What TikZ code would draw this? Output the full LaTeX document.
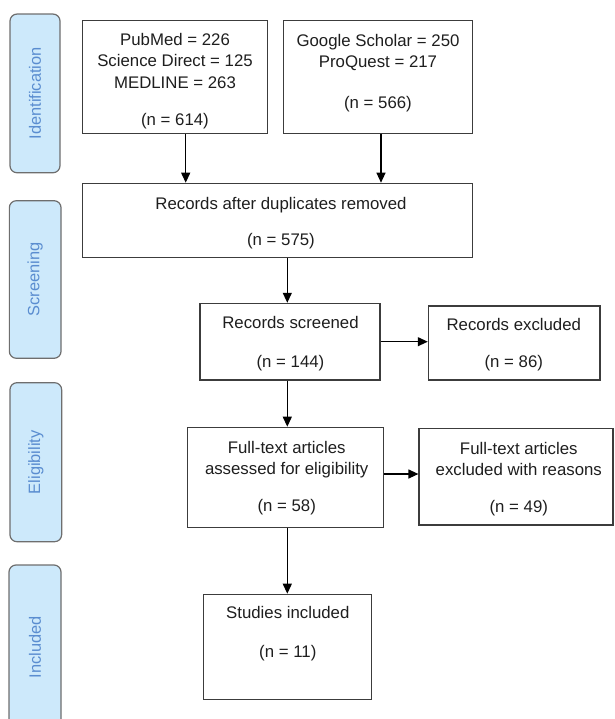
\documentclass[tikz,border=0pt]{standalone}
\usepackage{fontspec}
\setmainfont{Liberation Sans}
\usetikzlibrary{arrows.meta}
\definecolor{phasefill}{HTML}{CDE9FB}
\definecolor{phasedraw}{HTML}{6E6E6E}
\definecolor{phasetext}{HTML}{5A8DD0}
\definecolor{boxdraw}{HTML}{3C3C3C}
\definecolor{txtcol}{HTML}{1E1E1E}
\begin{document}
\begin{tikzpicture}[x=1pt,y=-1pt,
 box/.style={draw=boxdraw, line width=1.2pt, rectangle, inner sep=0pt},
 txt/.style={align=center, inner sep=0pt, text=txtcol, font=\fontsize{16.8}{21.3}\selectfont},
 phase/.style={draw=phasedraw, fill=phasefill, line width=1.2pt, rounded corners=7pt, inner sep=0pt, text=phasetext, font=\fontsize{16.4}{20}\selectfont},
 arr/.style={-{Triangle[width=9pt,length=10pt]}, line width=1.2pt, black}]
\useasboundingbox (0,0) rectangle (614,719);
\clip (0,0) rectangle (614,719);
% phase labels
\node[phase, minimum width=50, minimum height=158.7] (p1) at (35,93.4) {\rotatebox{90}{Identification}};
\node[phase, minimum width=51.7, minimum height=157.6] (p2) at (35.2,279.5) {\rotatebox{90}{Screening}};
\node[phase, minimum width=51.7, minimum height=159] (p3) at (35.8,462.2) {\rotatebox{90}{Eligibility}};
\node[phase, minimum width=52, minimum height=165] (p4) at (35,647.5) {\rotatebox{90}{Included}};
% boxes
\node[box, minimum width=185, minimum height=112.6] (b1) at (175.2,77) {};
\node[box, minimum width=189.4, minimum height=112.6] (b2) at (378,77) {};
\node[box, minimum width=390, minimum height=74.4] (b3) at (277.7,220.5) {};
\node[box, minimum width=180, minimum height=76.7] (b4) at (290,341.7) {};
\node[box, minimum width=171.7, minimum height=74] (b5) at (514.2,343) {};
\node[box, minimum width=196, minimum height=100.2] (b6) at (285.3,477.4) {};
\node[box, minimum width=194, minimum height=96.7] (b7) at (516,476.7) {};
\node[box, minimum width=168.4, minimum height=105] (b8) at (287.5,646.8) {};
% texts
\node[txt] (t1) at (175,81.2) {PubMed = 226\\Science Direct = 125\\MEDLINE = 263\\[16pt](n = 614)};
\node[txt] (t2) at (378,72.9) {Google Scholar = 250\\ProQuest = 217\\[19.4pt](n = 566)};
\node[txt] (t3) at (281,223.2) {Records after duplicates removed\\[15.4pt](n = 575)};
\node[txt] (t4) at (290.5,344) {Records screened\\[17.7pt](n = 144)};
\node[txt] (t5) at (513.8,344.9) {Records excluded\\[15.4pt](n = 86)};
\node[txt] (t6) at (286.7,478.2) {Full-text articles\\assessed for eligibility\\[15.4pt](n = 58)};
\node[txt] (t7) at (518.8,479.3) {Full-text articles\\excluded with reasons\\[15.4pt](n = 49)};
\node[txt] (t8) at (287.8,633.9) {Studies included\\[17.4pt](n = 11)};
% arrows
\draw[arr] (185.7,0 |- b1.south) -- (185.7,0 |- b3.north);
\draw[arr] (381,0 |- b2.south) -- (381,0 |- b3.north);
\draw[arr] (287.3,0 |- b3.south) -- (287.3,0 |- b4.north);
\draw[arr] (b4.east) -- (b5.west |- b4.east);
\draw[arr] (287.3,0 |- b4.south) -- (287.3,0 |- b6.north);
\draw[arr] (b6.east |- 0,474) -- (b7.west |- 0,474);
\draw[arr] (287.3,0 |- b6.south) -- (287.3,0 |- b8.north);
\end{tikzpicture}
\end{document}
